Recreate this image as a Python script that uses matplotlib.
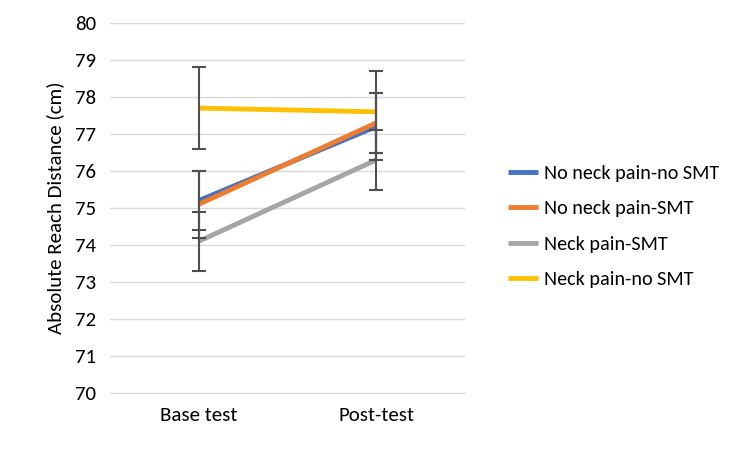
import matplotlib
matplotlib.use("Agg")
import matplotlib.pyplot as plt

categories = ["Base test", "Post-test"]
series = ["No neck pain-no SMT", "No neck pain-SMT", "Neck pain-SMT", "Neck pain-no SMT"]
values = [[75.2, 77.2], [75.1, 77.3], [74.1, 76.3], [77.7, 77.6]]
errors = [[0.8, 0.9], [0.9, 0.8], [0.8, 0.8], [1.1, 1.1]]
colors = ["#4472C4", "#ED7D31", "#A5A5A5", "#FFC000"]

plt.rcParams['font.family'] = ['Carlito', 'Liberation Sans', 'DejaVu Sans']
fig = plt.figure(figsize=(7.51, 4.54), dpi=100)
ax = fig.add_axes([110/751, 1-393/454, 355/751, 370/454])
x = [0, 1]
for name, v, e, c in zip(series, values, errors, colors):
    ax.plot(x, v, color=c, lw=3.5, label=name, solid_capstyle='butt', zorder=3)
for v, e in zip(values, errors):
    ax.errorbar(x, v, yerr=e, fmt='none', ecolor='#505050', elinewidth=1.5, capsize=5, capthick=1.5, zorder=4)
ax.set_xlim(-0.5, 1.5)
ax.set_ylim(70, 80)
ax.set_yticks(range(70, 81))
ax.set_xticks(x)
ax.set_xticklabels(categories)
ax.grid(axis='y', color='#D9D9D9', lw=1)
ax.set_axisbelow(True)
for s in ax.spines.values():
    s.set_visible(False)
ax.spines['bottom'].set_visible(True)
ax.spines['bottom'].set_color('#D9D9D9')
ax.tick_params(length=0, labelsize=15, colors='#000000', pad=10)
ax.set_ylabel("Absolute Reach Distance (cm)", fontsize=15, labelpad=8)
ax.legend(loc='center left', bbox_to_anchor=(1.07, 0.45), frameon=False, fontsize=14.5, handlelength=1.5, handletextpad=0.3, labelspacing=0.9)
fig.savefig("out.png", dpi=100)
